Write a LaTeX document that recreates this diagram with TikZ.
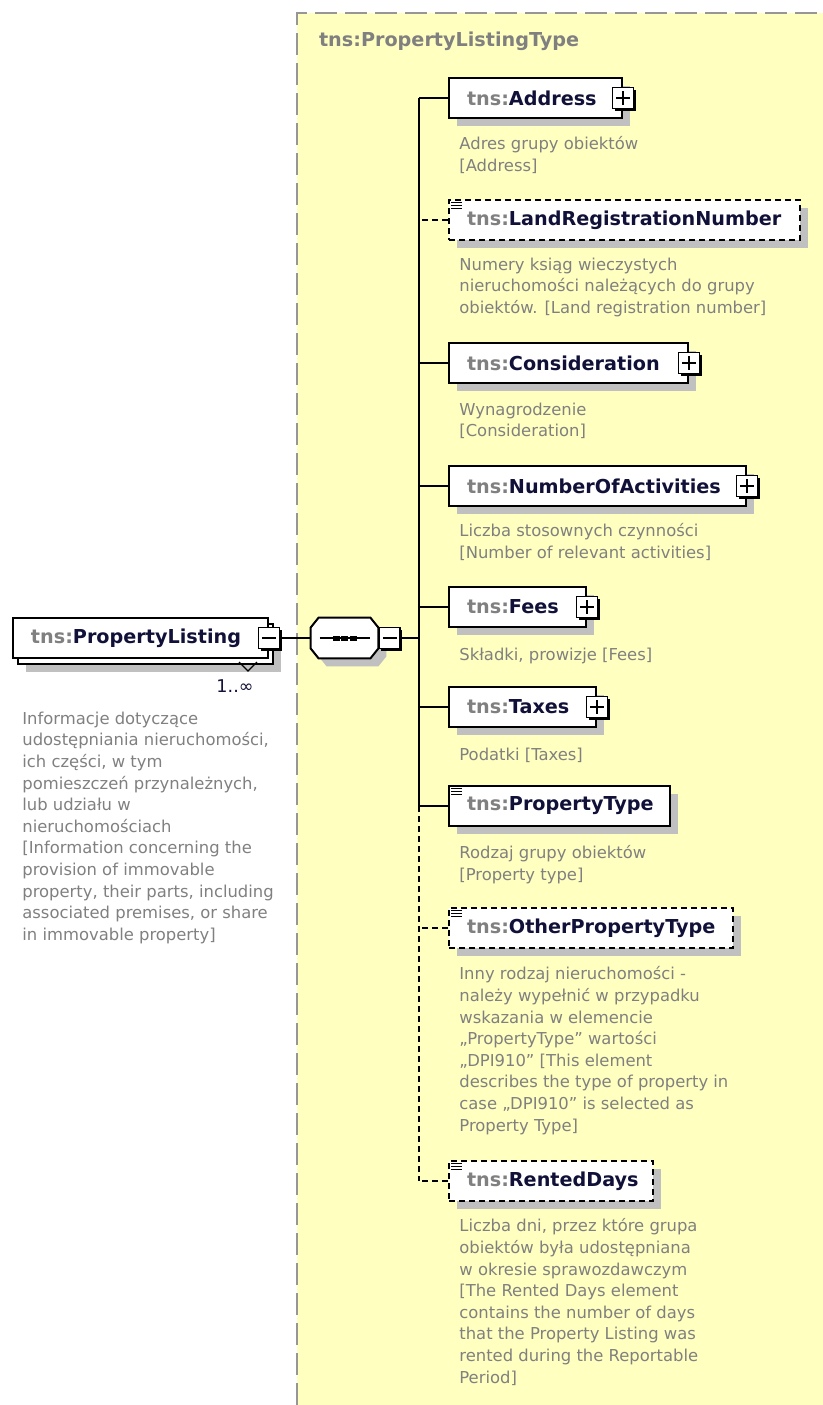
\documentclass[tikz,border=0pt]{standalone}
\usepackage{fontspec}
\setmainfont{DejaVu Sans}
\usetikzlibrary{shadows, positioning}

\definecolor{typebg}{RGB}{255,255,192}
\definecolor{typeline}{RGB}{150,150,150}
\definecolor{shadowgrey}{RGB}{192,192,192}
\definecolor{grey}{RGB}{128,128,128}
\definecolor{navy}{RGB}{16,16,56}

\newcommand{\lblfont}{\fontsize{9.6}{11}\selectfont\bfseries}
\newcommand{\descfont}{\fontsize{8.2}{10.8}\selectfont}
\newcommand{\tnsname}[1]{{\color{grey}tns:}#1}
% octagon round a node, shifted by #2,#3
\newcommand{\octpath}[3]{([xshift=#2+4pt, yshift=#3]#1.north west) -- ([xshift=#2-4pt, yshift=#3]#1.north east)
  -- ([xshift=#2, yshift=#3-5pt]#1.north east) -- ([xshift=#2, yshift=#3+5pt]#1.south east)
  -- ([xshift=#2-4pt, yshift=#3]#1.south east) -- ([xshift=#2+4pt, yshift=#3]#1.south west)
  -- ([xshift=#2, yshift=#3+5pt]#1.south west) -- ([xshift=#2, yshift=#3-5pt]#1.north west) -- cycle}

\tikzset{
  box/.style={rectangle, draw=black, fill=white, line width=1pt, anchor=west,
    minimum height=20pt, inner xsep=9pt, inner ysep=0pt, text width=#1,
    align=left, font=\lblfont, text=navy},
  elem/.style={box=#1, drop shadow={shadow xshift=4pt, shadow yshift=-4pt, fill=shadowgrey, opacity=1}},
  root/.style={box=#1, drop shadow={shadow xshift=6.5pt, shadow yshift=-7pt, fill=shadowgrey, opacity=1},
    copy shadow={shadow xshift=2.5pt, shadow yshift=-3pt}},
  opt/.style={dash pattern=on 3pt off 2pt},
  simple/.style={path picture={
    \foreach \k in {1,2,3}
      \draw[black, solid, line width=0.5pt] ([xshift=1pt, yshift=0.5pt-\k*1.5pt]path picture bounding box.north west) -- +(5.5pt,0);}},
  pbox/.style={rectangle, draw=black, fill=white, line width=0.8pt, minimum size=10.5pt, inner sep=0pt,
    drop shadow={shadow xshift=1pt, shadow yshift=-1pt, fill=black, opacity=1}},
  plus/.style={pbox, path picture={
    \draw[line width=0.7pt] ([xshift=1.8pt]path picture bounding box.west) -- ([xshift=-1.8pt]path picture bounding box.east)
      ([yshift=-1.8pt]path picture bounding box.north) -- ([yshift=1.8pt]path picture bounding box.south);}},
  minus/.style={pbox, path picture={
    \draw[line width=0.7pt] ([xshift=1.8pt]path picture bounding box.west) -- ([xshift=-1.8pt]path picture bounding box.east);}},
  seq/.style={rectangle, minimum width=33.5pt, minimum height=20pt, inner sep=0pt},
  desc/.style={anchor=north west, inner sep=0pt, align=left, text=grey, font=\descfont,
    execute at begin node=\strut},
  wire/.style={draw=black, line width=0.8pt},
  typeframe/.style={draw=typeline, line width=1pt, dash pattern=on 11pt off 4pt}
}

\begin{document}
\begin{tikzpicture}[x=0.5pt, y=-0.5pt]
\useasboundingbox (0,0) rectangle (823,1405);

% complex type area
\fill[typebg] (297,13) rectangle (823,1405);
\draw[typeframe] (297,1405) -- (297,13) -- (823,13);
\node[anchor=west, font=\lblfont, text=grey] (t) at (312,41) {tns:PropertyListingType};

% root element
\node[root=109.5pt] (0) at (12,638) {\tnsname{PropertyListing}};
\node[minus] (0m) at (0.east) {};
\draw[line width=0.6pt] (239,662) -- (248,671) -- (257,662);
\node[font=\fontsize{8.8}{10.8}\selectfont, text=navy] (0n) at (235,686) {1..∞};
\node[desc] (0d) at (22,711.4) {Informacje dotyczące\\
udostępniania nieruchomości,\\
ich części, w tym\\
pomieszczeń przynależnych,\\
lub udziału w\\
nieruchomościach\\
{}[Information concerning the\\
provision of immovable\\
property, their parts, including\\
associated premises, or share\\
in immovable property]};

% sequence
\node[seq] (s) at (344.5,638) {};
\fill[shadowgrey] \octpath{s}{4pt}{-4pt};
\filldraw[fill=white, draw=black, line width=1pt] \octpath{s}{0pt}{0pt};
\draw[line width=0.7pt] ([xshift=-12.5pt]s.center) -- ([xshift=12.5pt]s.center);
\foreach \dx in {-4.25,0,4.25}
  \fill ([xshift=\dx pt]s.center) +(-1.75pt,-1.25pt) rectangle +(1.75pt,1.25pt);
\node[minus, right=0pt of s] (sm) {};
\coordinate (j) at (419,638);

% child elements
\node[elem=68.5pt] (1) at (448,98) {\tnsname{Address}};
\node[plus] (1p) at (1.east) {};
\node[desc] (1d) at (459,136.4) {Adres grupy obiektów\\{}[Address]};

\node[elem=157.5pt, opt, simple] (2) at (448,220) {\tnsname{LandRegistrationNumber}};
\node[desc] (2d) at (459,257.4) {Numery ksiąg wieczystych\\
nieruchomości należących do grupy\\
obiektów. [Land registration number]};

\node[elem=101.5pt] (3) at (448,363) {\tnsname{Consideration}};
\node[plus] (3p) at (3.east) {};
\node[desc] (3d) at (459,402.4) {Wynagrodzenie\\{}[Consideration]};

\node[elem=130.5pt] (4) at (448,486) {\tnsname{NumberOfActivities}};
\node[plus] (4p) at (4.east) {};
\node[desc] (4d) at (459,523.4) {Liczba stosownych czynności\\{}[Number of relevant activities]};

\node[elem=50.5pt] (5) at (448,607) {\tnsname{Fees}};
\node[plus] (5p) at (5.east) {};
\node[desc] (5d) at (459,645.4) {Składki, prowizje [Fees]};

\node[elem=55.5pt] (6) at (448,707) {\tnsname{Taxes}};
\node[plus] (6p) at (6.east) {};
\node[desc] (6d) at (459,745.4) {Podatki [Taxes]};

\node[elem=92.5pt, simple] (7) at (448,806) {\tnsname{PropertyType}};
\node[desc] (7d) at (459,845.4) {Rodzaj grupy obiektów\\{}[Property type]};

\node[elem=124pt, opt, simple] (8) at (448,928) {\tnsname{OtherPropertyType}};
\node[desc] (8d) at (459,966.4) {Inny rodzaj nieruchomości -\\
należy wypełnić w przypadku\\
wskazania w elemencie\\
„PropertyType” wartości\\
„DPI910” [This element\\
describes the type of property in\\
case „DPI910” is selected as\\
Property Type]};

\node[elem=84pt, opt, simple] (9) at (448,1181) {\tnsname{RentedDays}};
\node[desc] (9d) at (459,1218.4) {Liczba dni, przez które grupa\\
obiektów była udostępniana\\
w okresie sprawozdawczym\\
{}[The Rented Days element\\
contains the number of days\\
that the Property Listing was\\
rented during the Reportable\\
Period]};

% connectors
\draw[wire] (0m.east) -- (s.west);
\draw[wire] (sm.east) -- (j);
\draw[wire] (1.west -| j) -- (7.west -| j);
\draw[wire, opt] (7.west -| j) -- (9.west -| j);
\foreach \n in {1,3,4,5,6,7}
  \draw[wire] (\n.west) -- (\n.west -| j);
\foreach \n in {2,8,9}
  \draw[wire, opt] (\n.west) -- (\n.west -| j);
\end{tikzpicture}
\end{document}
